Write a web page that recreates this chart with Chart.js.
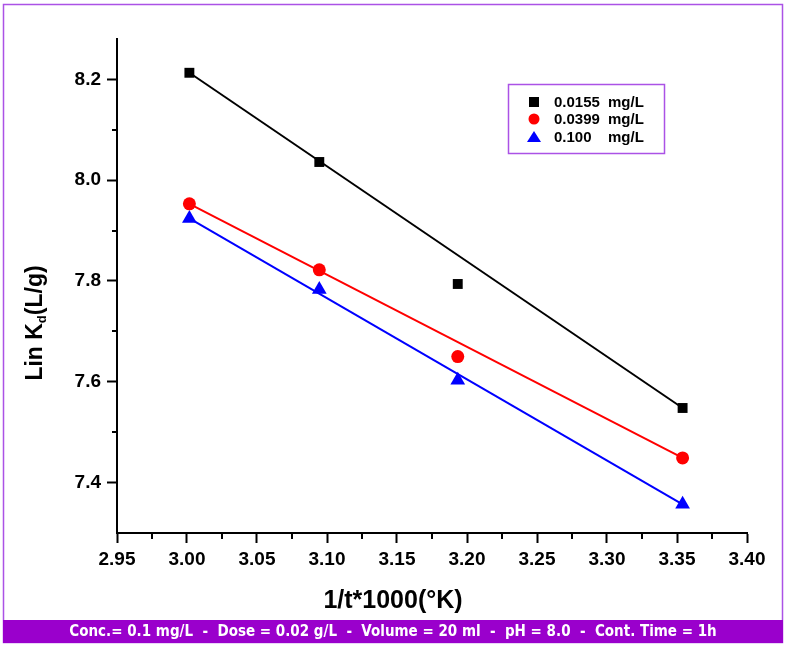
<!DOCTYPE html>
<html><head><meta charset="utf-8">
<script src="https://cdn.jsdelivr.net/npm/chart.js@4.4.1/dist/chart.umd.min.js"></script>
<style>html,body{margin:0;padding:0;background:#fff}canvas{display:block}</style>
</head><body>
<canvas id="c" width="786" height="648"></canvas>
<script>
// ---- data ----
const xValues = [3.0017, 3.0945, 3.1934, 3.3540];
const kd0155 = [8.213, 8.036, 7.794, 7.548];
const kd0399 = [7.953, 7.822, 7.650, 7.449];
const kd0100 = [7.924, 7.783, 7.603, 7.357];
// fitted straight lines (end points)
const fitX = [3.0017, 3.3540];
const fit0155 = [8.213, 7.548];
const fit0399 = [7.953, 7.449];
const fit0100 = [7.924, 7.357];
// axis ticks
const xTicks = [2.95, 3.00, 3.05, 3.10, 3.15, 3.20, 3.25, 3.30, 3.35, 3.40];
const xMinor = [2.975, 3.025, 3.075, 3.125, 3.175, 3.225, 3.275, 3.325, 3.375];
const yTicks = [7.4, 7.6, 7.8, 8.0, 8.2];
const yMinor = [7.5, 7.7, 7.9, 8.1];
// texts
const legendNames = ['0.0155', '0.0399', '0.100'];
const legendUnit = 'mg/L';
const xTitle = '1/t*1000(°K)';
const yTitleMain = 'Lin K', yTitleSub = 'd', yTitleTail = '(L/g)';
const footer = 'Conc.= 0.1 mg/L  -  Dose = 0.02 g/L  -  Volume = 20 ml  -  pH = 8.0  -  Cont. Time = 1h';

const FONT = '"Liberation Sans", Arial, sans-serif';
const PURPLE_LINE = '#ab52e6';
const PURPLE_BAND = '#9a00cc';

const pts = (xs, ys) => xs.map((x, i) => ({x: x, y: ys[i]}));

const decor = {
  id: 'decor',
  beforeDraw(chart) {
    const ctx = chart.ctx;
    ctx.save();
    ctx.fillStyle = '#fff';
    ctx.fillRect(0, 0, chart.width, chart.height);
    ctx.restore();
  },
  afterDraw(chart) {
    const ctx = chart.ctx;
    const xs = chart.scales.x, ys = chart.scales.y;
    const ca = chart.chartArea;
    ctx.save();
    // minor ticks
    ctx.strokeStyle = '#000';
    ctx.lineWidth = 2;
    ctx.beginPath();
    xMinor.forEach(v => {
      const px = Math.round(xs.getPixelForValue(v));
      ctx.moveTo(px, ca.bottom);
      ctx.lineTo(px, ca.bottom + 6);
    });
    yMinor.forEach(v => {
      const py = Math.round(ys.getPixelForValue(v));
      ctx.moveTo(ca.left - 5, py);
      ctx.lineTo(ca.left, py);
    });
    ctx.stroke();

    // outer frame
    ctx.strokeStyle = PURPLE_LINE;
    ctx.lineWidth = 1.5;
    ctx.strokeRect(3.5, 4.5, 779, 638);
    // footer band
    ctx.fillStyle = PURPLE_BAND;
    ctx.fillRect(3, 620, 780, 23);
    ctx.fillStyle = '#fff';
    ctx.font = 'bold 15px "Liberation Sans Narrow", "DejaVu Sans Condensed", ' + FONT;
    ctx.textAlign = 'center';
    ctx.textBaseline = 'middle';
    ctx.fillText(footer, 393, 632);

    // x title
    ctx.fillStyle = '#000';
    ctx.font = 'bold 25px ' + FONT;
    ctx.textAlign = 'center';
    ctx.textBaseline = 'middle';
    ctx.fillText(xTitle, 393, 601);

    // y title with subscript
    ctx.save();
    ctx.translate(34, 323);
    ctx.rotate(-Math.PI / 2);
    const fMain = 'bold 23px ' + FONT, fSub = 'bold 13px ' + FONT;
    ctx.font = fMain;
    const w1 = ctx.measureText(yTitleMain).width;
    const w3 = ctx.measureText(yTitleTail).width;
    ctx.font = fSub;
    const w2 = ctx.measureText(yTitleSub).width;
    let x0 = -(w1 + w2 + w3) / 2;
    ctx.textAlign = 'left';
    ctx.textBaseline = 'alphabetic';
    ctx.font = fMain;
    ctx.fillText(yTitleMain, x0, 8);
    ctx.font = fSub;
    ctx.fillText(yTitleSub, x0 + w1, 12);
    ctx.font = fMain;
    ctx.fillText(yTitleTail, x0 + w1 + w2, 8);
    ctx.restore();

    // legend
    ctx.strokeStyle = PURPLE_LINE;
    ctx.lineWidth = 1.5;
    ctx.strokeRect(508.5, 84.5, 156, 69);
    const rows = [102, 119, 137];
    const colors = ['#000000', '#ff0000', '#0000ff'];
    // square
    ctx.fillStyle = colors[0];
    ctx.fillRect(529, rows[0] - 5, 10, 10);
    // circle
    ctx.fillStyle = colors[1];
    ctx.beginPath();
    ctx.arc(534, rows[1], 5.5, 0, Math.PI * 2);
    ctx.fill();
    // triangle
    ctx.fillStyle = colors[2];
    ctx.beginPath();
    ctx.moveTo(534, rows[2] - 6);
    ctx.lineTo(541, rows[2] + 5);
    ctx.lineTo(527, rows[2] + 5);
    ctx.closePath();
    ctx.fill();
    ctx.fillStyle = '#000';
    ctx.font = 'bold 15px ' + FONT;
    ctx.textAlign = 'left';
    ctx.textBaseline = 'middle';
    legendNames.forEach((n, i) => {
      ctx.fillText(n, 554, rows[i] + 1);
      ctx.fillText(legendUnit, 608, rows[i] + 1);
    });
    ctx.restore();
  }
};

const tickFont = {family: FONT, size: 19, weight: 'bold'};

new Chart(document.getElementById('c'), {
  type: 'scatter',
  data: {
    datasets: [
      {label: '0.0155 mg/L', data: pts(xValues, kd0155), pointStyle: 'rect', pointRadius: 7, pointHoverRadius: 7,
       backgroundColor: '#000', borderWidth: 0, showLine: false},
      {label: '0.0399 mg/L', data: pts(xValues, kd0399), pointStyle: 'circle', pointRadius: 6.5, pointHoverRadius: 6.5,
       backgroundColor: '#ff0000', borderWidth: 0, showLine: false},
      {label: '0.100 mg/L', data: pts(xValues, kd0100), pointStyle: 'triangle', pointRadius: 8.5, pointHoverRadius: 8.5,
       backgroundColor: '#0000ff', borderWidth: 0, showLine: false},
      {label: 'fit1', data: pts(fitX, fit0155), showLine: true, borderColor: '#000', borderWidth: 2, pointRadius: 0},
      {label: 'fit2', data: pts(fitX, fit0399), showLine: true, borderColor: '#ff0000', borderWidth: 2, pointRadius: 0},
      {label: 'fit3', data: pts(fitX, fit0100), showLine: true, borderColor: '#0000ff', borderWidth: 2, pointRadius: 0}
    ]
  },
  options: {
    responsive: false,
    animation: false,
    events: [],
    layout: {padding: {top: 39, right: 39, left: 0, bottom: 0}},
    plugins: {legend: {display: false}, tooltip: {enabled: false}, title: {display: false}},
    scales: {
      x: {
        type: 'linear', min: 2.95, max: 3.40,
        afterBuildTicks: s => { s.ticks = xTicks.map(v => ({value: v})); },
        afterFit: s => { s.height = 115; },
        ticks: {callback: v => Number(v).toFixed(2), font: tickFont, color: '#000', padding: 5, maxRotation: 0, autoSkip: false},
        grid: {drawOnChartArea: false, drawTicks: true, tickLength: 10, tickColor: '#000', tickWidth: 2},
        border: {display: true, color: '#000', width: 2}
      },
      y: {
        type: 'linear', min: 7.3, max: 8.28,
        afterBuildTicks: s => { s.ticks = yTicks.map(v => ({value: v})); },
        afterFit: s => { s.width = 117; },
        ticks: {callback: v => Number(v).toFixed(1), font: tickFont, color: '#000', padding: 6, autoSkip: false},
        grid: {drawOnChartArea: false, drawTicks: true, tickLength: 10, tickColor: '#000', tickWidth: 2},
        border: {display: true, color: '#000', width: 2}
      }
    }
  },
  plugins: [decor]
});
</script>
</body></html>
